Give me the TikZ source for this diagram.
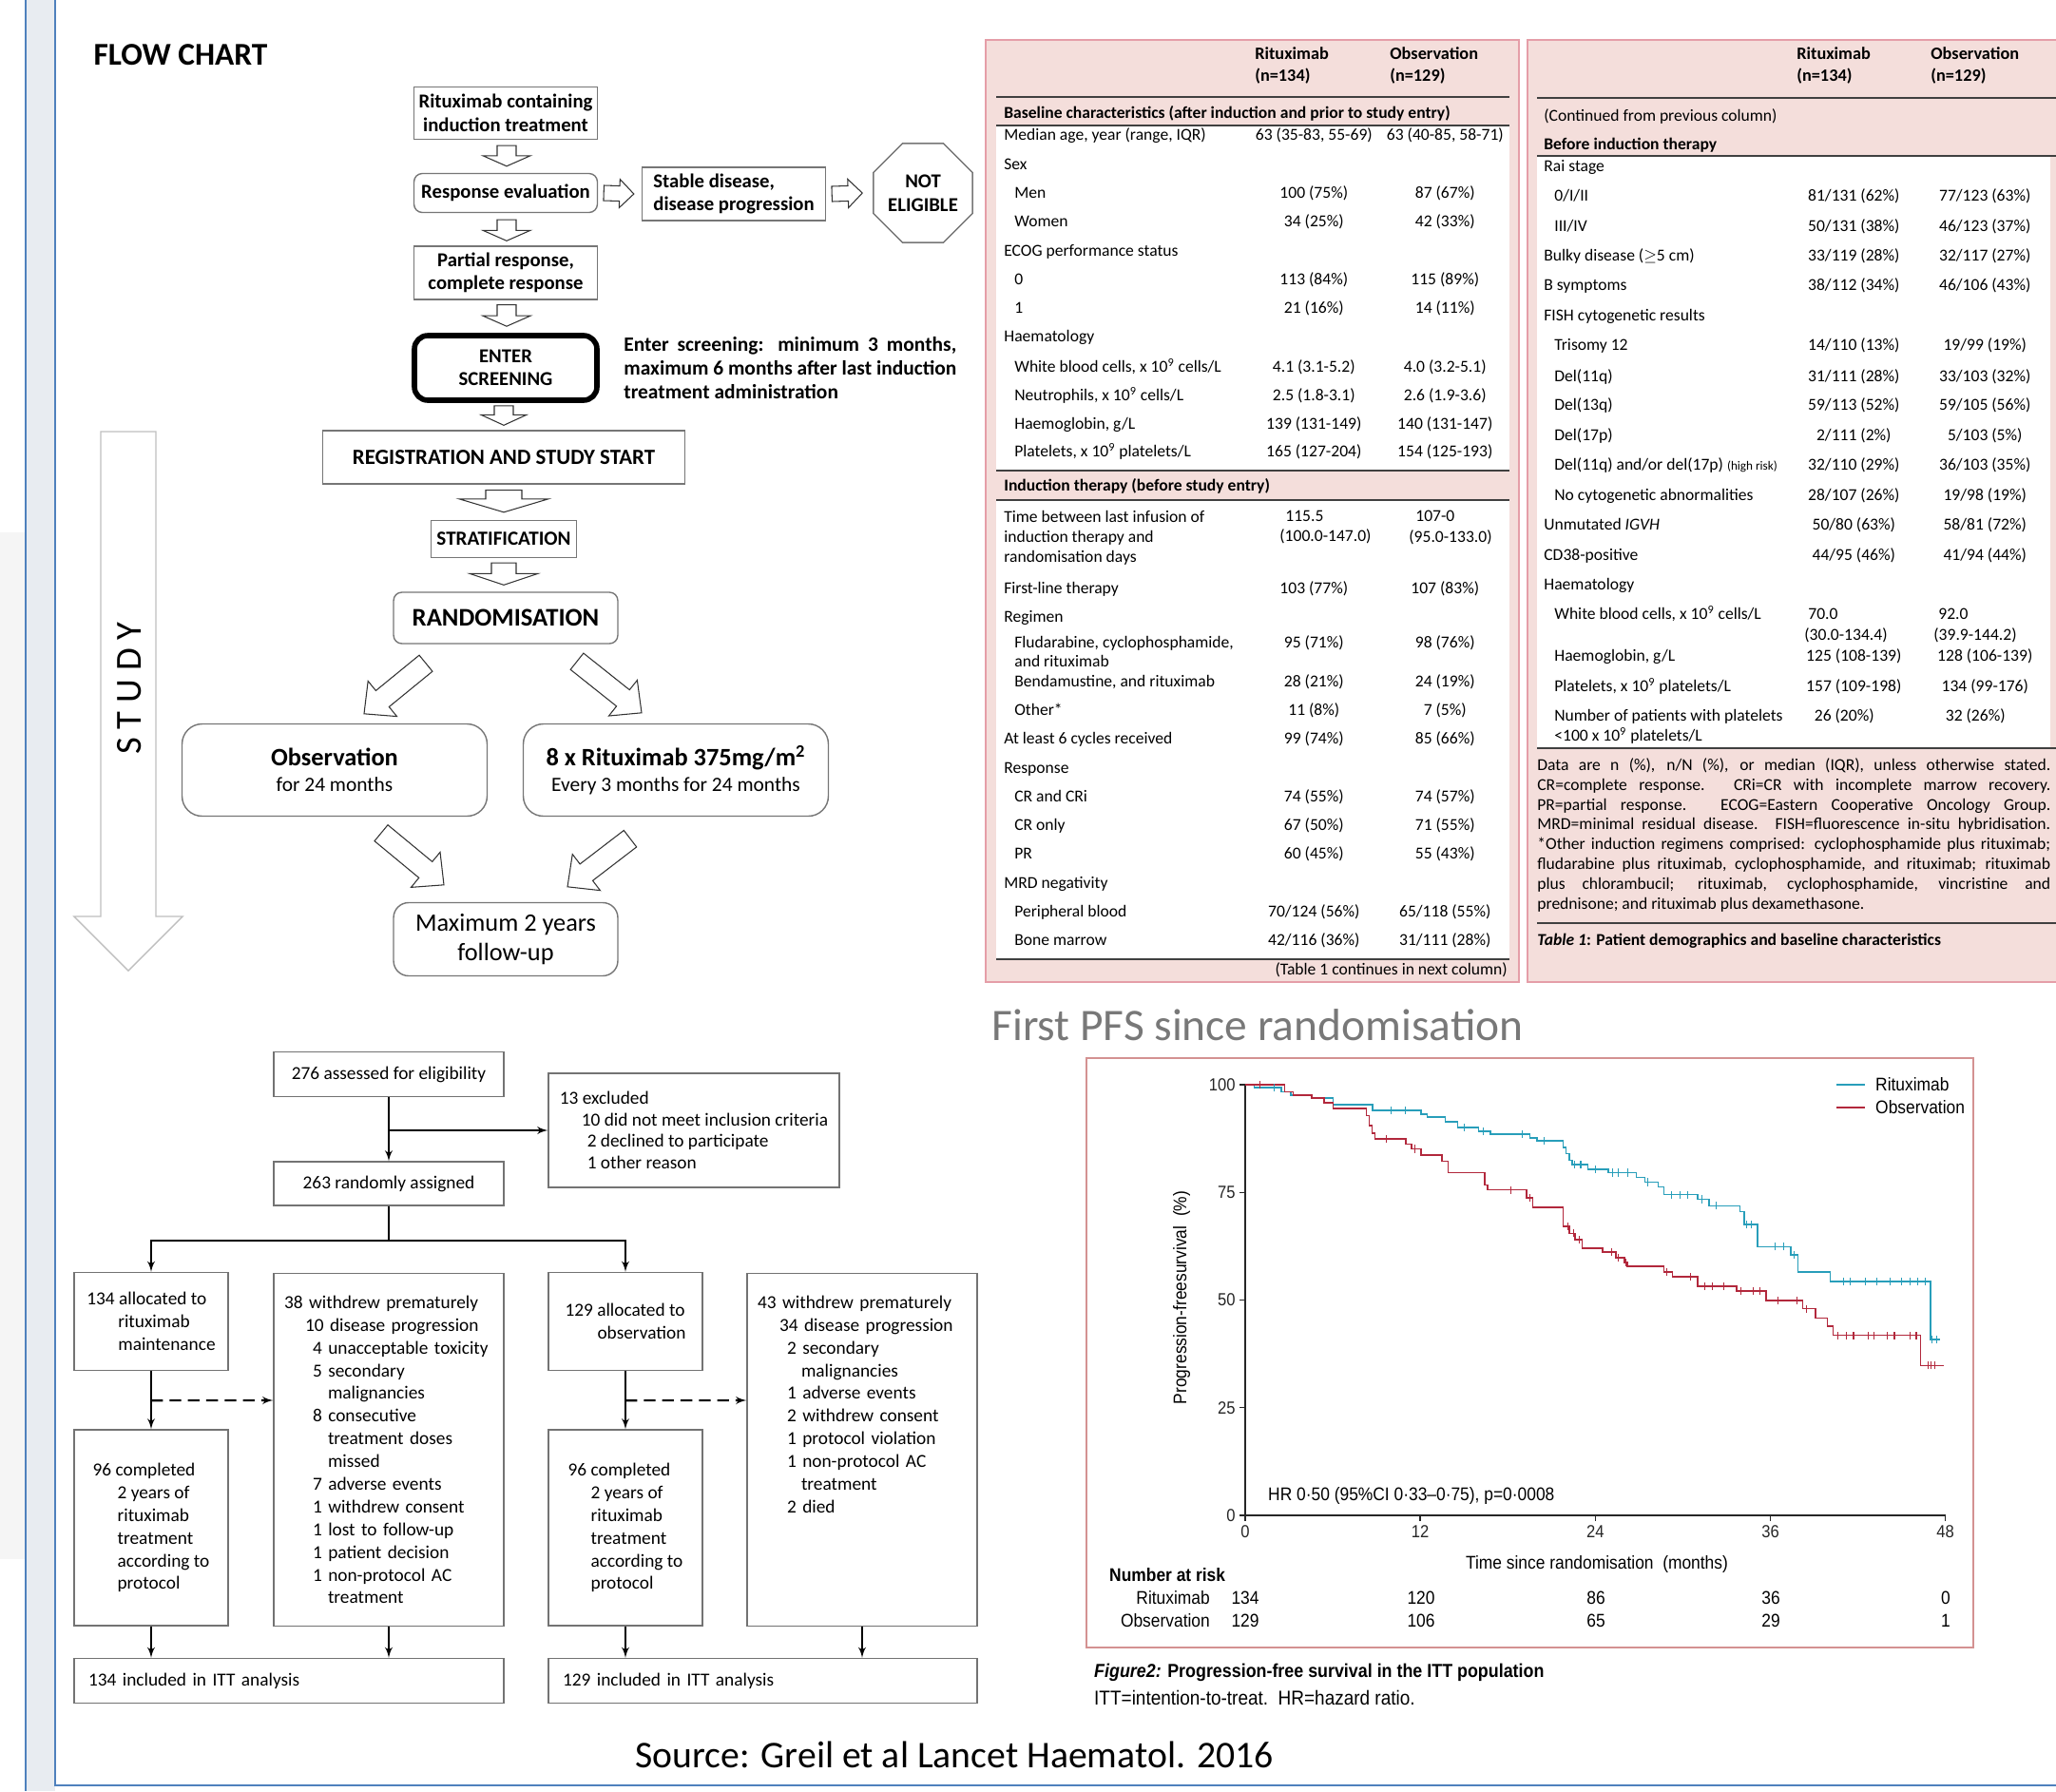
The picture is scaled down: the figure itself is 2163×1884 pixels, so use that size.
\documentclass[tikz,border=0pt]{standalone}
\usepackage{fontspec}
\setmainfont{Carlito}
\newfontfamily\kmfont[FakeStretch=0.9]{Liberation Sans}
\usetikzlibrary{calc,arrows,shapes.geometric}

\definecolor{ritcol}{RGB}{40,158,186}
\definecolor{obscol}{RGB}{178,40,60}
\definecolor{pinkfill}{RGB}{244,222,219}
\definecolor{pinkline}{RGB}{229,158,168}
\definecolor{kmframe}{RGB}{212,146,146}
\definecolor{framegray}{RGB}{232,236,241}
\definecolor{frameblue}{RGB}{79,129,189}
\definecolor{titlegray}{RGB}{120,120,120}
\definecolor{boxline}{RGB}{118,118,118}

% block arrow: [style]{from}{to}{shaft half width}{head half width}{head length}
\newcommand{\fatarrow}[6][fatarr]{%
\coordinate (fa-a) at #2;
\coordinate (fa-b) at #3;
\coordinate (fa-h) at ($(fa-b)!#6!(fa-a)$);
\draw[#1] ($(fa-a)!#4!90:(fa-b)$) -- ($(fa-h)!#4!-90:(fa-a)$) -- ($(fa-h)!#5!-90:(fa-a)$) -- (fa-b) -- ($(fa-h)!#5!90:(fa-a)$) -- ($(fa-h)!#4!90:(fa-a)$) -- ($(fa-a)!#4!-90:(fa-b)$) -- cycle;}

% table row: name, position, label, rituximab, observation
\newcommand{\trow}[5]{\node[tabrow] (#1) at (#2) {\makebox[5.32cm][l]{#3}\makebox[2.4cm]{#4}\hspace{0.36cm}\makebox[2.4cm]{#5}};}
\newcommand{\ind}{\hspace*{0.22cm}}
\newcommand{\tnine}{10\textsuperscript{9}}

\begin{document}
\begin{tikzpicture}[x=0.02cm,y=-0.02cm]
\tikzset{
fbox/.style={draw=boxline,line width=0.8pt,fill=white,align=center,inner sep=1pt,font={\fontsize{11.8}{14}\selectfont\bfseries}},
rbox/.style={fbox,rounded corners=5pt},
fatarr/.style={draw=black!80,fill=white,line width=0.6pt},
studyarr/.style={draw=black!25,fill=white,line width=0.8pt},
panel/.style={fill=pinkfill,draw=pinkline,line width=1.3pt},
rule/.style={draw=black!75,line width=1pt},
tabrow/.style={anchor=west,inner sep=0pt,text height=7pt,text depth=2pt,font={\fontsize{10}{12}\selectfont}},
tabhead/.style={anchor=west,inner sep=0pt,align=left,font={\fontsize{10.4}{13}\selectfont\bfseries}},
cbox/.style={draw=black!55,line width=0.8pt,align=left,inner sep=0pt,font={\fontsize{11}{13.6}\selectfont}},
cline/.style={line width=1.2pt,->,>=latex'},
kmtext/.style={font={\kmfont\fontsize{11}{13}\selectfont}},
kmaxis/.style={line width=0.8pt,black!85}
}
\useasboundingbox (0,0) rectangle (2163,1884);

% slide frame
\fill[black!4] (0,560) rectangle (26,1640);
\fill[framegray] (27,0) rectangle (58,1884);
\draw[frameblue,line width=1.2pt] (27,0) -- (27,1884);
\draw[frameblue,line width=1.2pt] (58,0) -- (58,1878) -- (2163,1878);

% flow chart
\node[font={\fontsize{19}{22}\selectfont\bfseries}] (flowtitle) at (190,58) {FLOW CHART};
\node[fbox,minimum width=3.86cm,minimum height=1.1cm] (induct) at (532,119) {Rituximab containing\\induction treatment};
\node[rbox,minimum width=3.86cm,minimum height=0.82cm] (evalbox) at (532,203) {Response evaluation};
\node[fbox,minimum width=3.86cm,minimum height=1.12cm,align=left] (stable) at (772,204) {Stable disease,\\disease progression};
\node[fbox,regular polygon,regular polygon sides=8,minimum size=2.25cm,inner sep=0pt] (notelig) at (971,203) {NOT\\ELIGIBLE};
\node[fbox,minimum width=3.86cm,minimum height=1.12cm] (partial) at (532,287) {Partial response,\\complete response};
\node[fbox,draw=black,line width=3.2pt,rounded corners=8pt,minimum width=3.84cm,minimum height=1.36cm] (screen) at (532,387) {ENTER\\SCREENING};
\node[anchor=west,text width=7.0cm,align=justify,inner sep=0pt,font={\fontsize{12.2}{14.2}\selectfont\bfseries}] (screennote) at (656,387) {Enter screening: minimum 3 months,\linebreak maximum 6 months after last induction\linebreak treatment administration};
\node[fbox,minimum width=7.62cm,minimum height=1.12cm,font={\fontsize{13}{15}\selectfont\bfseries}] (regist) at (530,481) {REGISTRATION AND STUDY START};
\node[fbox,minimum width=3.06cm,minimum height=0.78cm,font={\fontsize{12}{14}\selectfont\bfseries}] (strat) at (530,567) {STRATIFICATION};
\node[rbox,minimum width=4.72cm,minimum height=1.08cm,font={\fontsize{15.2}{17}\selectfont\bfseries}] (random) at (532,650) {RANDOMISATION};
\node[rbox,rounded corners=12pt,minimum width=6.42cm,minimum height=1.94cm,font={\fontsize{12.2}{15.5}\selectfont}] (obs) at (352,810) {{\fontsize{15}{15.5}\selectfont\bfseries Observation}\\for 24 months};
\node[rbox,rounded corners=12pt,minimum width=6.42cm,minimum height=1.94cm,font={\fontsize{12.2}{15.5}\selectfont}] (ritux) at (711,810) {{\fontsize{15}{15.5}\selectfont\bfseries 8 x Rituximab 375mg/m\textsuperscript{2}}\\Every 3 months for 24 months};
\node[rbox,rounded corners=9pt,minimum width=4.72cm,minimum height=1.54cm,font={\fontsize{15}{18}\selectfont}] (maxfu) at (532,988) {Maximum 2 years\\follow-up};

\fatarrow{($(induct.south)+(1,6)$)}{($(evalbox.north)+(1,-7)$)}{0.2cm}{0.5cm}{0.22cm}
\fatarrow{($(evalbox.east)+(6,0)$)}{($(stable.west)+(-8,0)$)}{0.16cm}{0.3cm}{0.3cm}
\fatarrow{($(stable.east)+(6,0)$)}{($(notelig.west)+(-11,0)$)}{0.16cm}{0.3cm}{0.3cm}
\fatarrow{($(evalbox.south)+(1,7)$)}{($(partial.north)+(1,-5)$)}{0.2cm}{0.5cm}{0.22cm}
\fatarrow{($(partial.south)+(1,5)$)}{($(screen.north)+(1,-7)$)}{0.2cm}{0.5cm}{0.22cm}
\fatarrow{($(screen.south)+(-2,3)$)}{($(regist.north)+(0,-5)$)}{0.2cm}{0.48cm}{0.22cm}
\fatarrow{($(regist.south)+(0,6)$)}{($(strat.north)+(0,-8)$)}{0.38cm}{0.94cm}{0.28cm}
\fatarrow{($(strat.south)+(0,5)$)}{($(random.north)+(-2,-7)$)}{0.26cm}{0.72cm}{0.24cm}
\fatarrow{($(random.south)+(-84,20)$)}{($(obs.north)+(31,-10)$)}{0.22cm}{0.48cm}{0.5cm}
\fatarrow{($(random.south)+(75,18)$)}{($(ritux.north)+(-36,-11)$)}{0.22cm}{0.48cm}{0.5cm}
\fatarrow{($(obs.south)+(49,17)$)}{($(maxfu.north)+(-65,-18)$)}{0.22cm}{0.48cm}{0.5cm}
\fatarrow{($(ritux.south)+(-48,23)$)}{($(maxfu.north)+(65,-16)$)}{0.22cm}{0.48cm}{0.5cm}

% study arrow
\coordinate (studytop) at (135,454);
\coordinate (studytip) at (135,1021);
\fatarrow[studyarr]{(studytop)}{(studytip)}{0.58cm}{1.14cm}{1.14cm}
\node[rotate=90,font=\fontsize{22}{22}\selectfont] (studylbl) at (136,724) {S T U D Y};

% table, first column
\draw[panel] (1037,42) rectangle (1598,1033);
\fill[white] (1048,132) rectangle (1588,495);
\fill[white] (1048,526) rectangle (1588,1009);
\node[tabhead] (lhrit) at (1320,69) {Rituximab\\(n=134)};
\node[tabhead] (lhobs) at (1462,69) {Observation\\(n=129)};
\draw[rule] (1048,102) -- (1588,102);
\node[tabhead,font={\fontsize{10}{12}\selectfont\bfseries}] (lsec1) at (1056,119) {Baseline characteristics (after induction and prior to study entry)};
\draw[rule] (1048,132) -- (1588,132);
\trow{t01}{1056,143}{Median age, year (range, IQR)}{63 (35-83, 55-69)}{63 (40-85, 58-71)}
\trow{t02}{1056,174}{Sex}{}{}
\trow{t03}{1056,204}{\ind Men}{100 (75\%)}{87 (67\%)}
\trow{t04}{1056,234}{\ind Women}{34 (25\%)}{42 (33\%)}
\trow{t05}{1056,265}{ECOG performance status}{}{}
\trow{t06}{1056,295}{\ind 0}{113 (84\%)}{115 (89\%)}
\trow{t07}{1056,325}{\ind 1}{21 (16\%)}{14 (11\%)}
\trow{t08}{1056,355}{Haematology}{}{}
\trow{t09}{1056,387}{\ind White blood cells, x \tnine{} cells/L}{4.1 (3.1-5.2)}{4.0 (3.2-5.1)}
\trow{t10}{1056,417}{\ind Neutrophils, x \tnine{} cells/L}{2.5 (1.8-3.1)}{2.6 (1.9-3.6)}
\trow{t11}{1056,447}{\ind Haemoglobin, g/L}{139 (131-149)}{140 (131-147)}
\trow{t12}{1056,476}{\ind Platelets, x \tnine{} platelets/L}{165 (127-204)}{154 (125-193)}
\draw[rule] (1048,495) -- (1588,495);
\node[tabhead,font={\fontsize{10}{12}\selectfont\bfseries}] (lsec2) at (1056,511) {Induction therapy (before study entry)};
\draw[rule] (1048,526) -- (1588,526);
\node[tabrow,align=left,text height=,text depth=,font={\fontsize{10}{12}\selectfont}] (t13) at (1056,566) {Time between last infusion of\\induction therapy and\\randomisation days};
\node[tabrow,align=left,text height=,text depth=,font={\fontsize{10}{12}\selectfont}] (t13r) at (1346,555) {\hspace*{0.12cm}115.5\\(100.0-147.0)};
\node[tabrow,align=left,text height=,text depth=,font={\fontsize{10}{12}\selectfont}] (t13o) at (1482,555) {\hspace*{0.14cm}107-0\\(95.0-133.0)};
\trow{t14}{1056,620}{First-line therapy}{103 (77\%)}{107 (83\%)}
\trow{t15}{1056,650}{Regimen}{}{}
\trow{t16}{1056,677}{\ind Fludarabine, cyclophosphamide,}{95 (71\%)}{98 (76\%)}
\trow{t16b}{1056,697}{\ind and rituximab}{}{}
\trow{t17}{1056,718}{\ind Bendamustine, and rituximab}{28 (21\%)}{24 (19\%)}
\trow{t18}{1056,748}{\ind Other*}{11 (8\%)}{7 (5\%)}
\trow{t19}{1056,778}{At least 6 cycles received}{99 (74\%)}{85 (66\%)}
\trow{t20}{1056,809}{Response}{}{}
\trow{t21}{1056,839}{\ind CR and CRi}{74 (55\%)}{74 (57\%)}
\trow{t22}{1056,869}{\ind CR only}{67 (50\%)}{71 (55\%)}
\trow{t23}{1056,899}{\ind PR}{60 (45\%)}{55 (43\%)}
\trow{t24}{1056,930}{MRD negativity}{}{}
\trow{t25}{1056,960}{\ind Peripheral blood}{70/124 (56\%)}{65/118 (55\%)}
\trow{t26}{1056,990}{\ind Bone marrow}{42/116 (36\%)}{31/111 (28\%)}
\draw[rule] (1048,1009) -- (1588,1009);
\node[tabrow,anchor=east] (lcont) at (1586,1021) {(Table 1 continues in next column)};

% table, second column
\fill[pinkfill] (1607,42) rectangle (2163,1033);
\draw[pinkline,line width=1.3pt] (2163,42) -- (1607,42) -- (1607,1033) -- (2163,1033);
\fill[white] (1617,164) rectangle (2157,787);
\node[tabhead] (rhrit) at (1890,69) {Rituximab\\(n=134)};
\node[tabhead] (rhobs) at (2031,69) {Observation\\(n=129)};
\draw[rule] (1617,103) -- (2163,103);
\node[tabrow] (rcont) at (1624,123) {(Continued from previous column)};
\node[tabhead,font={\fontsize{10}{12}\selectfont\bfseries}] (rsec1) at (1624,153) {Before induction therapy};
\draw[rule] (1617,164) -- (2163,164);
\trow{u01}{1624,176}{Rai stage}{}{}
\trow{u02}{1624,207}{\ind 0/I/II}{81/131 (62\%)}{77/123 (63\%)}
\trow{u03}{1624,239}{\ind III/IV}{50/131 (38\%)}{46/123 (37\%)}
\trow{u04}{1624,270}{Bulky disease ($\geq$5 cm)}{33/119 (28\%)}{32/117 (27\%)}
\trow{u05}{1624,301}{B symptoms}{38/112 (34\%)}{46/106 (43\%)}
\trow{u06}{1624,333}{FISH cytogenetic results}{}{}
\trow{u07}{1624,364}{\ind Trisomy 12}{14/110 (13\%)}{19/99 (19\%)}
\trow{u08}{1624,397}{\ind Del(11q)}{31/111 (28\%)}{33/103 (32\%)}
\trow{u09}{1624,427}{\ind Del(13q)}{59/113 (52\%)}{59/105 (56\%)}
\trow{u10}{1624,459}{\ind Del(17p)}{2/111 (2\%)}{5/103 (5\%)}
\trow{u11}{1624,490}{\ind Del(11q) and/or del(17p) {\fontsize{7.5}{8}\selectfont(high risk)}}{32/110 (29\%)}{36/103 (35\%)}
\trow{u12}{1624,522}{\ind No cytogenetic abnormalities}{28/107 (26\%)}{19/98 (19\%)}
\trow{u13}{1624,553}{Unmutated \textit{IGVH}}{50/80 (63\%)}{58/81 (72\%)}
\trow{u14}{1624,585}{CD38-positive}{44/95 (46\%)}{41/94 (44\%)}
\trow{u15}{1624,616}{Haematology}{}{}
\trow{u16}{1624,647}{\ind White blood cells, x \tnine{} cells/L}{}{}
\node[tabrow,align=left,text height=,text depth=,font={\fontsize{10}{12}\selectfont}] (u16r) at (1898,658) {\hspace*{0.08cm}70.0\\(30.0-134.4)};
\node[tabrow,align=left,text height=,text depth=,font={\fontsize{10}{12}\selectfont}] (u16o) at (2034,658) {\hspace*{0.1cm}92.0\\(39.9-144.2)};
\trow{u17}{1624,691}{\ind Haemoglobin, g/L}{125 (108-139)}{128 (106-139)}
\trow{u18}{1624,723}{\ind Platelets, x \tnine{} platelets/L}{157 (109-198)}{134 (99-176)}
\trow{u19}{1624,754}{\ind Number of patients with platelets}{26 (20\%)\hspace{0.4cm}}{32 (26\%)\hspace{0.4cm}}
\trow{u19b}{1624,775}{\ind <100 x \tnine{} platelets/L}{}{}
\draw[rule] (1617,787) -- (2163,787);
\node[anchor=north west,inner sep=0pt,text width=10.8cm,align=justify,font={\fontsize{10}{11.9}\selectfont}] (tnote) at (1617,797) {Data are n (\%), n/N (\%), or median (IQR), unless otherwise stated.\linebreak CR=complete response. CRi=CR with incomplete marrow recovery.\linebreak PR=partial response. ECOG=Eastern Cooperative Oncology Group.\linebreak MRD=minimal residual disease. FISH=fluorescence in-situ hybridisation.\linebreak *Other induction regimens comprised: cyclophosphamide plus rituximab;\linebreak fludarabine plus rituximab, cyclophosphamide, and rituximab; rituximab\linebreak plus chlorambucil; rituximab, cyclophosphamide, vincristine and\linebreak prednisone; and rituximab plus dexamethasone.};
\draw[rule] (1617,971) -- (2163,971);
\node[tabrow,font={\fontsize{10}{12}\selectfont\bfseries}] (tcap) at (1617,990) {\textit{Table 1}: Patient demographics and baseline characteristics};

% consort diagram
\node[cbox,minimum width=4.84cm,minimum height=0.94cm] (elig) at (409,1130) {276 assessed for eligibility};
\node[cbox,minimum width=6.12cm,minimum height=2.4cm,font={\fontsize{11}{12.8}\selectfont}] (excl) at (730,1189) {13 excluded\\\hspace*{0.46cm}10 did not meet inclusion criteria\\\hspace*{0.58cm}2 declined to participate\\\hspace*{0.58cm}1 other reason};
\node[cbox,minimum width=4.84cm,minimum height=0.92cm] (rand) at (409,1245) {263 randomly assigned};
\node[cbox,minimum width=3.24cm,minimum height=2.06cm] (alloc1) at (159,1390) {134 allocated to\\\hspace*{0.66cm}rituximab\\\hspace*{0.66cm}maintenance};
\node[cbox,minimum height=7.42cm,text width=4.4cm,inner xsep=0.22cm] (wd1) at (409,1525) {38 withdrew prematurely\\\hspace*{0.44cm}10 disease progression\\\hspace*{0.6cm}4 unacceptable toxicity\\\hspace*{0.6cm}5 secondary\\\hspace*{0.92cm}malignancies\\\hspace*{0.6cm}8 consecutive\\\hspace*{0.92cm}treatment doses\\\hspace*{0.92cm}missed\\\hspace*{0.6cm}7 adverse events\\\hspace*{0.6cm}1 withdrew consent\\\hspace*{0.6cm}1 lost to follow-up\\\hspace*{0.6cm}1 patient decision\\\hspace*{0.6cm}1 non-protocol AC\\\hspace*{0.92cm}treatment};
\node[cbox,minimum width=3.24cm,minimum height=2.06cm] (alloc2) at (658,1390) {129 allocated to\\\hspace*{0.68cm}observation};
\node[cbox,minimum height=7.42cm,text width=4.4cm,inner xsep=0.22cm] (wd2) at (907,1525) {43 withdrew prematurely\\\hspace*{0.46cm}34 disease progression\\\hspace*{0.62cm}2 secondary\\\hspace*{0.92cm}malignancies\\\hspace*{0.62cm}1 adverse events\\\hspace*{0.62cm}2 withdrew consent\\\hspace*{0.62cm}1 protocol violation\\\hspace*{0.62cm}1 non-protocol AC\\\hspace*{0.92cm}treatment\\\hspace*{0.62cm}2 died\\~\\~\\~\\~};
\node[cbox,minimum width=3.24cm,minimum height=4.12cm] (comp1) at (159,1607) {96 completed\\\hspace*{0.52cm}2 years of\\\hspace*{0.52cm}rituximab\\\hspace*{0.52cm}treatment\\\hspace*{0.52cm}according to\\\hspace*{0.52cm}protocol};
\node[cbox,minimum width=3.24cm,minimum height=4.12cm] (comp2) at (658,1607) {96 completed\\\hspace*{0.48cm}2 years of\\\hspace*{0.48cm}rituximab\\\hspace*{0.48cm}treatment\\\hspace*{0.48cm}according to\\\hspace*{0.48cm}protocol};
\node[cbox,minimum height=0.94cm,text width=8.44cm,inner xsep=0.3cm] (itt1) at (304,1768) {134 included in ITT analysis};
\node[cbox,minimum height=0.94cm,text width=8.42cm,inner xsep=0.3cm] (itt2) at (802.5,1768) {129 included in ITT analysis};

\draw[cline] (elig.south) -- (rand.north);
\draw[cline] (elig.south |- excl.west) -- (excl.west);
\draw[line width=1.2pt] (rand.south) -- ++(0,36) coordinate (split);
\draw[cline] (split) -| (alloc1.north);
\draw[cline] (split) -| (alloc2.north);
\draw[cline] (alloc1.south) -- (comp1.north);
\draw[cline] (alloc2.south) -- (comp2.north);
\draw[cline,dashed,dash pattern=on 7pt off 4pt] ($(alloc1.south)+(0,31)$) -- ($(wd1.west)+(0,-52)$);
\draw[cline,dashed,dash pattern=on 7pt off 4pt] ($(alloc2.south)+(0,31)$) -- ($(wd2.west)+(0,-52)$);
\draw[cline] (comp1.south) -- (comp1.south |- itt1.north);
\draw[cline] (wd1.south) -- (wd1.south |- itt1.north);
\draw[cline] (comp2.south) -- (comp2.south |- itt2.north);
\draw[cline] (wd2.south) -- (wd2.south |- itt2.north);

% survival plot
\node[font=\fontsize{27}{30}\selectfont,text=titlegray] (pfstitle) at (1323,1078) {First PFS since randomisation};
\draw[kmframe,line width=0.8pt] (1143,1113) rectangle (2076,1733);
\begin{scope}[shift={(1310,1594)},x=0.307cm,y=0.0906cm]
\draw[kmaxis] (0,100) -- (0,0) -- (48,0);
\foreach \t in {0,12,24,36,48}
  \draw[kmaxis] (\t,0) -- (\t,-1.3) node[below=1pt,kmtext,font={\kmfont\fontsize{10.5}{12}\selectfont},inner sep=1pt] (xt\t) {\t};
\foreach \v in {0,25,50,75,100}
  \draw[kmaxis] (0,\v) -- (-0.4,\v) node[left=1pt,kmtext,font={\kmfont\fontsize{10.5}{12}\selectfont},inner sep=1pt] (yt\v) {\v};
\draw[ritcol,line width=0.9pt] (0,100) -| (0.62,99.3) -| (2.49,98.4) -| (3.12,97.6) -| (4.57,96.9) -| (6.03,95.4) -| (8.73,94.1) -| (12.05,93.2) -| (12.47,92.5) -| (13.71,91.4) -| (14.55,90.1) -| (16.0,89.2) -| (16.8,88.5) -| (19.5,87.7) -| (20.0,87.0) -| (21.8,85.5) -| (22.0,84.0) -| (22.2,82.5) -| (22.4,81.5) -| (23.5,80.4) -| (24.9,79.6) -| (26.8,78.5) -| (27.4,77.4) -| (28.3,76.3) -| (28.7,74.5) -| (31.0,73.4) -| (31.8,71.9) -| (33.9,70.5) -| (34.2,67.5) -| (35.1,62.4) -| (37.4,60.5) -| (37.9,56.5) -| (40.1,54.3) -| (46.97,40.8) -- (47.6,40.8);
\draw[obscol,line width=0.9pt] (0,100) -| (2.7,98.4) -| (3.3,97.6) -| (4.57,96.9) -| (5.4,95.8) -| (6.03,94.5) -| (8.3,92.8) -| (8.5,90.5) -| (8.7,88.8) -| (8.9,87.4) -| (11.0,86.2) -| (11.4,85.1) -| (12.05,83.7) -| (13.5,82.2) -| (13.9,79.6) -| (16.4,76.7) -| (16.6,75.6) -| (19.3,73.8) -| (19.7,71.5) -| (21.8,67.1) -| (22.2,65.5) -| (22.6,64.0) -| (23.1,62.1) -| (24.5,61.2) -| (25.4,59.8) -| (26.0,58.7) -| (26.2,57.9) -| (28.7,56.5) -| (29.3,55.4) -| (31.0,53.2) -| (33.7,52.1) -| (35.7,49.9) -| (38.2,48.0) -| (39.1,45.8) -| (39.9,44.0) -| (40.3,41.8) -| (46.3,34.8) -- (47.9,34.8);
\foreach \m/\p in {2/99.3, 10/94.1, 11/94.1, 15/90.1, 16.3/89.2, 19/88.5, 20.5/87, 22.6/81.5, 23/81.5, 24/80.4, 25.2/79.6, 25.6/79.6, 26.2/79.6, 27.6/77.4, 29.2/74.5, 29.8/74.5, 30.3/74.5, 31.3/73.4, 32.3/71.9, 34.4/67.5, 34.7/67.5, 36.3/62.4, 36.9/62.4, 37.6/60.5, 41/54.3, 41.5/54.3, 42.5/54.3, 43.3/54.3, 44.2/54.3, 45/54.3, 45.6/54.3, 46.1/54.3, 46.6/54.3, 47.1/40.8, 47.4/40.8}
  \draw[ritcol,line width=0.6pt] (\m,\p-0.9) -- (\m,\p+0.9);
\foreach \m/\p in {1/100, 9.7/87.4, 11.6/85.1, 18.2/75.6, 19.5/73.8, 22.1/67.1, 22.5/65.5, 22.9/64, 25.1/61.2, 25.6/59.8, 26.1/58.7, 28.9/56.5, 30.5/55.4, 31.5/53.2, 32/53.2, 32.8/53.2, 34/52.1, 34.8/52.1, 35.3/52.1, 36.5/49.9, 37.8/49.9, 38.5/48, 40.6/41.8, 41.2/41.8, 41.7/41.8, 42.7/41.8, 43.1/41.8, 44/41.8, 44.5/41.8, 45.6/41.8, 46/41.8, 46.8/34.8, 47/34.8, 47.3/34.8}
  \draw[obscol,line width=0.6pt] (\m,\p-0.9) -- (\m,\p+0.9);
\end{scope}
\node[kmtext,anchor=west] (legrit) at (1967,1141) {Rituximab};
\node[kmtext,anchor=west] (legobs) at (1967,1165) {Observation};
\draw[ritcol,line width=1pt] ($(legrit.west)+(-35,0)$) -- ($(legrit.west)+(-5,0)$);
\draw[obscol,line width=1pt] ($(legobs.west)+(-35,0)$) -- ($(legobs.west)+(-5,0)$);
\node[kmtext,rotate=90] (ylab) at (1243,1365) {Progression-freesurvival\ \ (\%)};
\node[kmtext] (xlab) at (1680,1645) {Time since randomisation\ \ (months)};
\node[kmtext,anchor=west] (hrtext) at (1328,1573) {HR 0·50 (95\%CI 0·33–0·75), p=0·0008};
\node[kmtext,anchor=west,font={\kmfont\fontsize{11}{13}\selectfont\bfseries}] (nrisk) at (1161,1657) {Number at risk};
\node[kmtext,anchor=east] (nrrit) at (1279,1681) {Rituximab};
\node[kmtext,anchor=east] (nrobs) at (1279,1705) {Observation};
\node[kmtext] (nr1a) at (1310,1681) {134};
\node[kmtext] (nr1b) at (1495,1681) {120};
\node[kmtext] (nr1c) at (1679,1681) {86};
\node[kmtext] (nr1d) at (1863,1681) {36};
\node[kmtext] (nr1e) at (2047,1681) {0};
\node[kmtext] (nr2a) at (1310,1705) {129};
\node[kmtext] (nr2b) at (1495,1705) {106};
\node[kmtext] (nr2c) at (1679,1705) {65};
\node[kmtext] (nr2d) at (1863,1705) {29};
\node[kmtext] (nr2e) at (2047,1705) {1};
\node[kmtext,anchor=west,font={\kmfont\fontsize{11.3}{13}\selectfont\bfseries}] (figcap) at (1145,1759) {\textit{Figure2:} Progression-free survival in the ITT population};
\node[kmtext,anchor=west,font={\kmfont\fontsize{12}{14}\selectfont}] (abbrev) at (1145,1786) {ITT=intention-to-treat.\ \ HR=hazard ratio.};

\node[font=\fontsize{22.6}{25}\selectfont] (source) at (1004,1846) {Source: Greil et al Lancet Haematol. 2016};
\end{tikzpicture}
\end{document}
